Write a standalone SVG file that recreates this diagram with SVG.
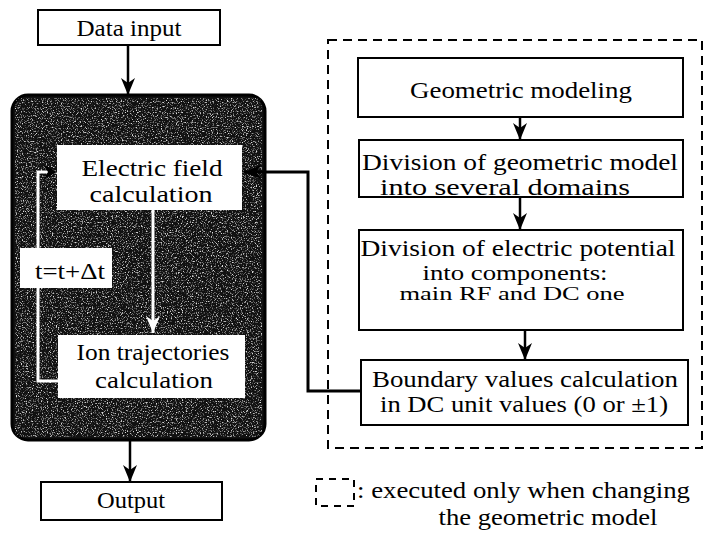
<svg xmlns="http://www.w3.org/2000/svg" width="705" height="533" viewBox="0 0 705 533">
<style>
  text { font-family: "Liberation Serif", "DejaVu Serif", "Noto Serif", "Times New Roman", serif; font-size: 23px; fill: #000; text-anchor: middle; }
  text.sm { font-size: 19px; }
  text.md { font-size: 21px; }
  text.start { text-anchor: start; }
  .box { fill: #fff; stroke: #000; stroke-width: 2; }
  .wbox { fill: #fff; stroke: none; }
  .line { fill: none; stroke: #000; stroke-width: 2.5; }
  .thick { fill: none; stroke: #000; stroke-width: 3; }
  .wline { fill: none; stroke: #fff; stroke-width: 3; }
  .dash { fill: none; stroke: #000; stroke-width: 2; stroke-dasharray: 9 6; }
</style>
<defs>
  <marker id="ah" markerUnits="userSpaceOnUse" markerWidth="18" markerHeight="14" refX="17" refY="7" orient="auto">
    <path d="M0,0 L17,7 L0,14 L5,7 Z" fill="#000"/>
  </marker>
  <marker id="ahw" markerUnits="userSpaceOnUse" markerWidth="18" markerHeight="14" refX="17" refY="7" orient="auto">
    <path d="M0,0 L17,7 L0,14 L5,7 Z" fill="#fff"/>
  </marker>
  <filter id="speckle" x="0" y="0" width="100%" height="100%">
    <feTurbulence type="fractalNoise" baseFrequency="0.8" numOctaves="2" seed="7" result="t"/>
    <feColorMatrix in="t" type="matrix" values="0 0 0 0 1  0 0 0 0 1  0 0 0 0 1  4 0 0 0 -2.1" result="w"/>
    <feComposite in="w" in2="SourceGraphic" operator="in"/>
  </filter>
  <clipPath id="darkclip"><rect x="12" y="95" width="253" height="345" rx="16"/></clipPath>
</defs>

<g id="dark-loop">
  <rect x="12" y="95" width="253" height="345" rx="16" fill="#111" stroke="#000" stroke-width="3"/>
  <rect x="15" y="98" width="247" height="339" fill="#000" clip-path="url(#darkclip)" filter="url(#speckle)" opacity="0.85"/>
</g>

<g id="connectors">
  <path class="line" d="M128,45 V95" marker-end="url(#ah)"/>
  <path class="line" d="M130,440 V482" marker-end="url(#ah)"/>
  <path class="line" d="M520,117 V140" marker-end="url(#ah)"/>
  <path class="line" d="M520,197 V230" marker-end="url(#ah)"/>
  <path class="line" d="M525,330 V360" marker-end="url(#ah)"/>
  <path class="thick" d="M361,391 H308 V172 H244" marker-end="url(#ah)"/>
  <path class="wline" d="M153,210 V333" marker-end="url(#ahw)"/>
  <path class="wline" d="M58,381 H38 V172 H56"/>
  <path d="M44,165 L57,172 L44,179 L48,172 Z" fill="#000"/>
</g>

<g id="data-input">
  <rect class="box" x="38" y="10" width="182" height="35"/>
  <text x="129" y="36" textLength="105" lengthAdjust="spacingAndGlyphs">Data input</text>
</g>

<g id="electric-field">
  <rect class="wbox" x="57" y="145" width="185" height="65"/>
  <text x="152" y="176" textLength="141" lengthAdjust="spacingAndGlyphs">Electric field</text>
  <text x="151" y="202" textLength="123" lengthAdjust="spacingAndGlyphs">calculation</text>
</g>

<g id="time-step">
  <rect class="wbox" x="20" y="248" width="92" height="40"/>
  <text x="70" y="279" textLength="70" lengthAdjust="spacingAndGlyphs">t=t+Δt</text>
</g>

<g id="ion-trajectories">
  <rect class="wbox" x="58" y="335" width="187" height="63"/>
  <text x="153" y="360" textLength="153" lengthAdjust="spacingAndGlyphs">Ion trajectories</text>
  <text x="154" y="388" textLength="118" lengthAdjust="spacingAndGlyphs">calculation</text>
</g>

<g id="output">
  <rect class="box" x="41" y="482" width="181" height="38"/>
  <text x="131" y="508" textLength="68" lengthAdjust="spacingAndGlyphs">Output</text>
</g>

<g id="geometry-group">
  <rect class="dash" x="328" y="40" width="374" height="408"/>
</g>

<g id="geometric-modeling">
  <rect class="box" x="358" y="58" width="325" height="59"/>
  <text x="521" y="98" textLength="222" lengthAdjust="spacingAndGlyphs">Geometric modeling</text>
</g>

<g id="division-domains">
  <rect class="box" x="359" y="140" width="324" height="57"/>
  <text x="520" y="170" textLength="316" lengthAdjust="spacingAndGlyphs">Division of geometric model</text>
  <text x="505" y="195" textLength="250" lengthAdjust="spacingAndGlyphs">into several domains</text>
</g>

<g id="division-potential">
  <rect class="box" x="359" y="230" width="324" height="100"/>
  <text x="518" y="256" textLength="315" lengthAdjust="spacingAndGlyphs">Division of electric potential</text>
  <text class="md" x="515" y="280" textLength="185" lengthAdjust="spacingAndGlyphs">into components:</text>
  <text class="sm" x="512" y="300" textLength="225" lengthAdjust="spacingAndGlyphs">main RF and DC one</text>
</g>

<g id="boundary-values">
  <rect class="box" x="361" y="360" width="327" height="65"/>
  <text x="525" y="387" textLength="306" lengthAdjust="spacingAndGlyphs">Boundary values calculation</text>
  <text x="524" y="412" textLength="288" lengthAdjust="spacingAndGlyphs">in DC unit values (0 or ±1)</text>
</g>

<g id="legend">
  <rect x="316" y="479" width="38" height="27" fill="none" stroke="#000" stroke-width="2" stroke-dasharray="7 6"/>
  <text class="start" x="357" y="498" textLength="333" lengthAdjust="spacingAndGlyphs">: executed only when changing</text>
  <text x="548" y="525" textLength="219" lengthAdjust="spacingAndGlyphs">the geometric model</text>
</g>
</svg>
